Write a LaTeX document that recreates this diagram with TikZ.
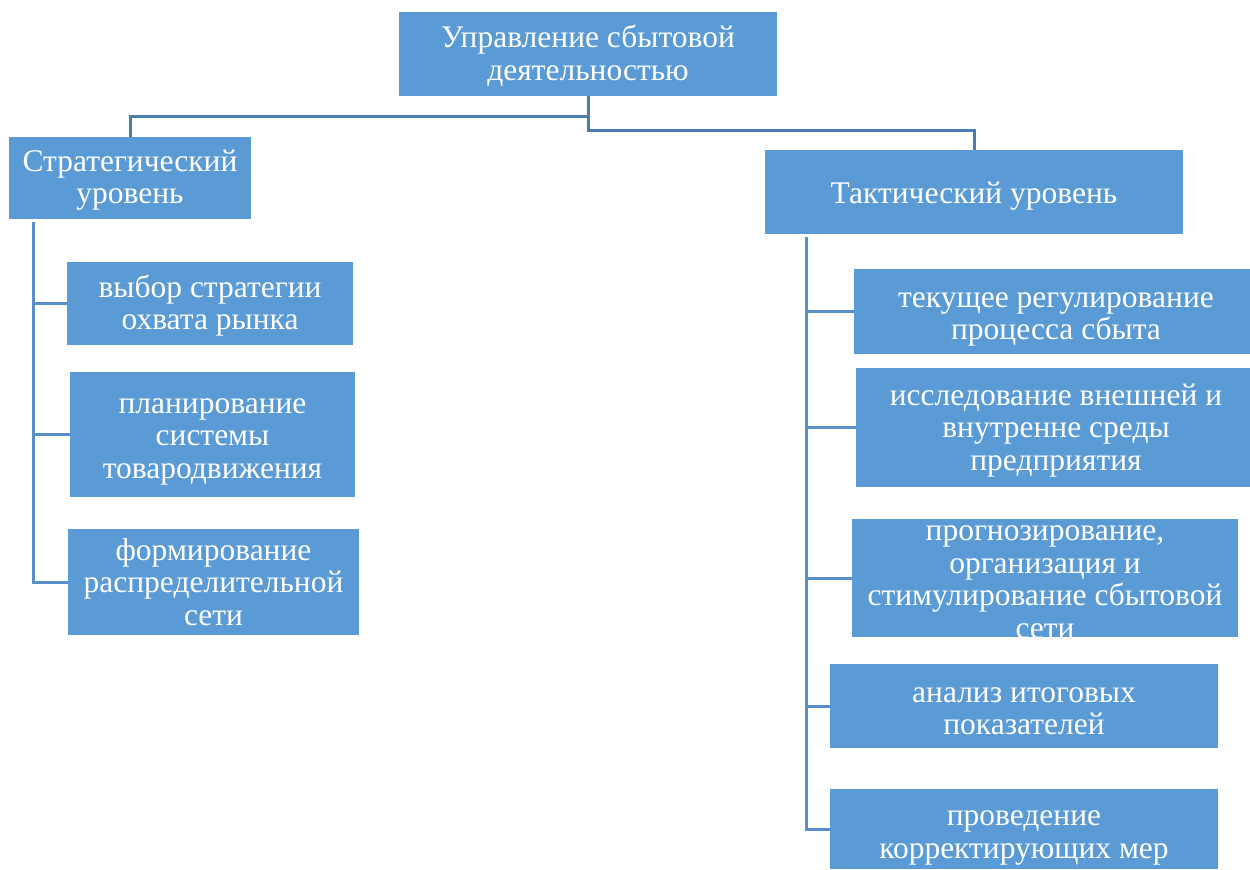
\documentclass[tikz,border=0pt]{standalone}
\usepackage{fontspec}
\setmainfont{Liberation Serif}
\definecolor{boxblue}{HTML}{5B9BD5}
\definecolor{topline}{HTML}{4A7CB0}
\definecolor{sideline}{HTML}{5A90CA}
\begin{document}
\begin{tikzpicture}[x=1bp,y=-1bp,
  box/.style={rectangle, fill=boxblue, draw=none, inner sep=0pt},
  boxtext/.style={rectangle, draw=none, text=white, align=center, inner sep=0pt,
    font=\fontsize{31.5bp}{32.5bp}\selectfont},
  topconn/.style={draw=topline, line width=3bp},
  sideconn/.style={draw=sideline, line width=3bp}]
\useasboundingbox (0,0) rectangle (1250,870);
% boxes
\node[box, minimum width=378bp, minimum height=84bp] (top) at (588,54) {};
\node[box, minimum width=242bp, minimum height=82bp] (str) at (130,178) {};
\node[box, minimum width=418bp, minimum height=84bp] (tac) at (974,192) {};
\node[box, minimum width=286bp, minimum height=83bp] (s1) at (210,303.5) {};
\node[box, minimum width=285bp, minimum height=125bp] (s2) at (212.5,434.5) {};
\node[box, minimum width=291bp, minimum height=106bp] (s3) at (213.5,582) {};
\node[box, minimum width=396bp, minimum height=85bp] (t1) at (1052,311.5) {};
\node[box, minimum width=394bp, minimum height=119bp] (t2) at (1053,427.5) {};
\node[box, minimum width=386bp, minimum height=118bp] (t3) at (1045,578) {};
\node[box, minimum width=388bp, minimum height=84bp] (t4) at (1024,706) {};
\node[box, minimum width=388bp, minimum height=80bp] (t5) at (1024,829) {};
% texts
\node[boxtext] (toptxt) at ([yshift=-2bp]top.center) {Управление сбытовой\\деятельностью};
\node[boxtext] (strtxt) at ([yshift=-2bp]str.center) {Стратегический\\уровень};
\node[boxtext] (tactxt) at ([yshift=-4bp]tac.center) {Тактический уровень};
\node[boxtext] (s1txt) at ([yshift=-2bp]s1.center) {выбор стратегии\\охвата рынка};
\node[boxtext] (s2txt) at ([yshift=-7bp]s2.center) {планирование\\системы\\товародвижения};
\node[boxtext] (s3txt) at (s3.center) {формирование\\распределительной\\сети};
\node[boxtext] (t1txt) at ([xshift=4bp,yshift=-8bp]t1.center) {текущее регулирование\\процесса сбыта};
\node[boxtext] (t2txt) at ([xshift=3bp,yshift=-3bp]t2.center) {исследование внешней и\\внутренне среды\\предприятия};
\begin{scope}
\clip (t3.south west) rectangle (t3.north east);
\node[boxtext] (t3txt) at ([yshift=-4bp]t3.center) {прогнозирование,\\организация и\\стимулирование сбытовой\\сети};
\end{scope}
\node[boxtext] (t4txt) at ([yshift=-5bp]t4.center) {анализ итоговых\\показателей};
\node[boxtext] (t5txt) at ([yshift=-9bp]t5.center) {проведение\\корректирующих мер};
% top connectors
\coordinate (jl) at (588,116);
\coordinate (jr) at (588,130);
\draw[topconn] (top.south) -- (jr) -| (tac.north);
\draw[topconn] (jl) -| (str.north);
% strategic branch
\coordinate (sv) at (33,222);
\draw[sideconn] (sv) |- (s3.west);
\draw[sideconn] (s1.west) -- (s1.west -| sv);
\draw[sideconn] (s2.west) -- (s2.west -| sv);
% tactical branch
\coordinate (tv) at (806,237);
\draw[sideconn] (tv) |- (t5.west);
\draw[sideconn] (t1.west) -- (t1.west -| tv);
\draw[sideconn] (t2.west) -- (t2.west -| tv);
\draw[sideconn] (t3.west) -- (t3.west -| tv);
\draw[sideconn] (t4.west) -- (t4.west -| tv);
\end{tikzpicture}
\end{document}
